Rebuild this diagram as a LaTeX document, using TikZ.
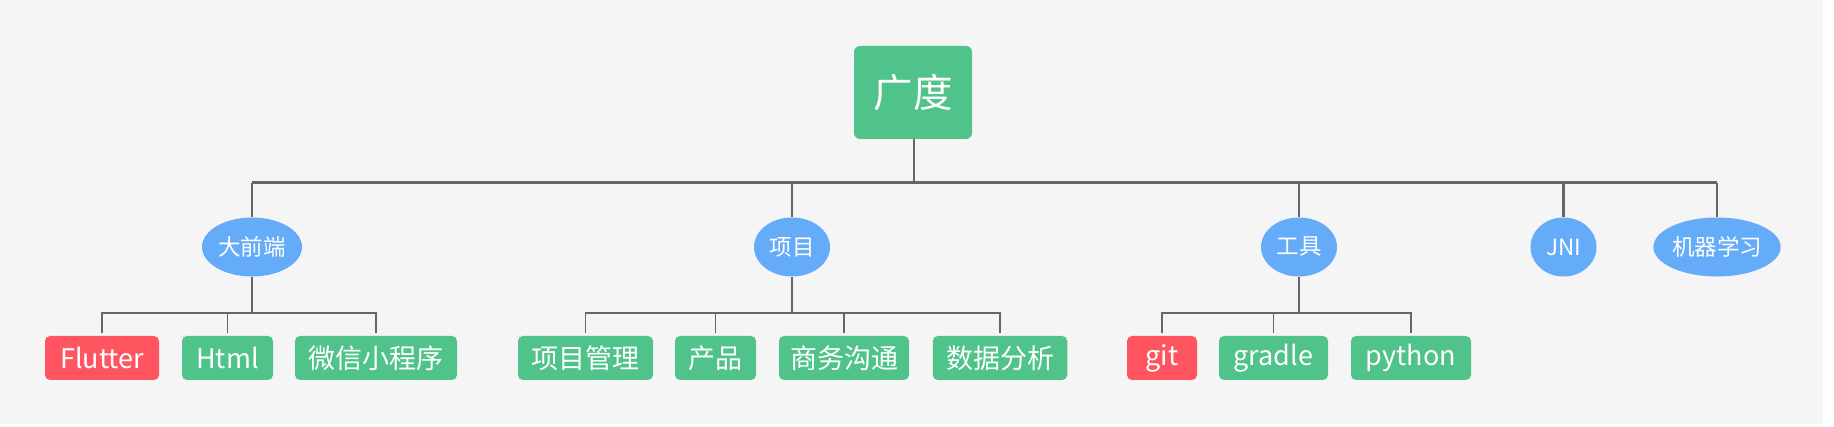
\documentclass[tikz,border=0pt]{standalone}
\usepackage{fontspec}
\usetikzlibrary{shapes.geometric}
\newfontfamily\cjk{Noto Sans CJK SC}
\definecolor{bg}{HTML}{F5F5F5}
\definecolor{gr}{HTML}{50C38B}
\definecolor{rd}{HTML}{FF5561}
\definecolor{bl}{HTML}{64ACF8}
\definecolor{ln}{HTML}{666666}
\tikzset{
  rootbox/.style={fill=gr, rounded corners=6pt, inner sep=0pt, text=white, font=\cjk\fontsize{39.5}{42}\selectfont, minimum width=118pt, minimum height=93pt},
  mid/.style={ellipse, fill=bl, inner sep=0pt, text=white, font=\cjk\fontsize{22.5}{26}\selectfont, minimum height=59pt},
  leaf/.style={fill=gr, rounded corners=5pt, inner sep=0pt, text=white, font=\cjk\fontsize{27}{30}\selectfont, minimum height=44pt},
  leafr/.style={leaf, fill=rd},
  mainline/.style={draw=ln, line width=2.5pt},
  barline/.style={draw=ln, line width=3pt},
  subline/.style={draw=ln, line width=1.5pt},
}
\begin{document}
\begin{tikzpicture}[x=1pt,y=-1pt]
\useasboundingbox (0,0) rectangle (1834,427);
\fill[bg] (0,0) rectangle (1823,424);
% root
\node[rootbox] (root) at (913,92.5) {广度};
% mid level
\node[mid, minimum width=100pt] (qd) at (252,247) {大前端};
\node[mid, minimum width=76pt] (xm) at (792,247) {项目};
\node[mid, minimum width=76pt] (gj) at (1299,247) {工具};
\node[mid, minimum width=66pt] (jni) at (1563.5,247) {JNI};
\node[mid, minimum width=122pt] (jq) at (1717,247) {机器学习};
% leaves
\node[leafr, minimum width=114pt] (flutter) at (102,358) {Flutter};
\node[leaf, minimum width=91pt] (html) at (227.5,358) {Html};
\node[leaf, minimum width=162pt] (wx) at (376,358) {微信小程序};
\node[leaf, minimum width=135pt] (xmgl) at (585.5,358) {项目管理};
\node[leaf, minimum width=81pt] (cp) at (715.5,358) {产品};
\node[leaf, minimum width=130pt] (swgt) at (844,358) {商务沟通};
\node[leaf, minimum width=134.5pt] (sjfx) at (1000,358) {数据分析};
\node[leafr, minimum width=70pt] (git) at (1162,358) {git};
\node[leaf, minimum width=109pt] (gradle) at (1273.5,358) {gradle};
\node[leaf, minimum width=120pt] (python) at (1411,358) {python};
% top connectors
\coordinate (bar) at (914,183);
\draw[mainline] (root.south -| bar) -- (bar);
\draw[barline] (qd.north |- bar) -- (jq.north |- bar);
\foreach \n in {qd,xm,gj,jni,jq}{
  \draw[mainline] (\n.north |- bar) -- (\n.north);
}
% sub connectors
\foreach \p/\kids in {qd/{flutter,html,wx}, xm/{xmgl,cp,swgt,sjfx}, gj/{git,gradle,python}}{
  \draw[subline] (\p.south) -- (\p.south |- 0,313);
  \foreach \k in \kids {
    \draw[subline, shorten >=3pt] (\p.south |- 0,313) -| (\k.north);
  }
}
\end{tikzpicture}
\end{document}
